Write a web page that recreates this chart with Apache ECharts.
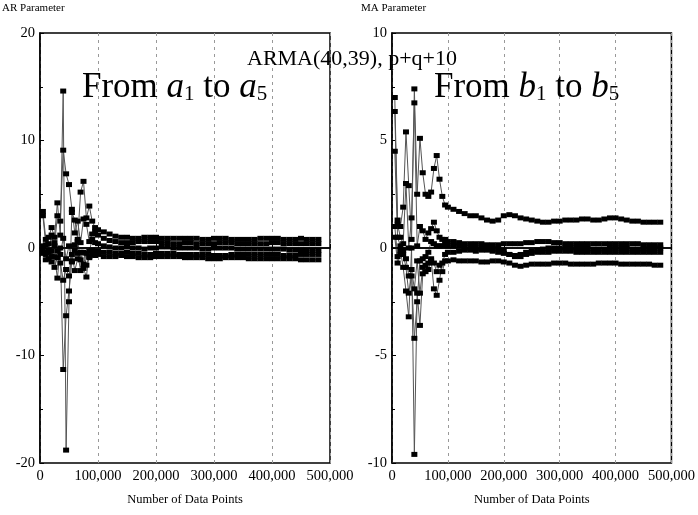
<!DOCTYPE html>
<html>
<head>
<meta charset="utf-8">
<script src="https://cdn.jsdelivr.net/npm/echarts@6/dist/echarts.min.js"></script>
<style>
html,body{margin:0;padding:0;background:#fff;}
#chart{width:698px;height:515px;}
</style>
</head>
<body>
<div id="chart"></div>
<script>
// ---- Data ----
const xPoints = [5000,10000,15000,20000,25000,30000,35000,40000,45000,50000,
  55000,60000,65000,70000,75000,80000,85000,90000,95000,100000,
  110000,120000,130000,140000,150000,160000,170000,180000,190000,200000,
  210000,220000,230000,240000,250000,260000,270000,280000,290000,300000,
  310000,320000,330000,340000,350000,360000,370000,380000,390000,400000,
  410000,420000,430000,440000,450000,460000,470000,480000];

const xTickLabels = ['0','100,000','200,000','300,000','400,000','500,000'];

// AR parameters a1..a5
const a1 = [3.4,0.8,1.0,1.9,1.0,4.2,1.2,14.6,-18.8,-5.0, 3.3,2.6,0.8,5.2,6.2,2.8,3.9,2.5,1.9,1.7,
  1.5,1.3,1.1,1.0,1.0,0.9,0.9,1.0,1.0,1.0, 0.9,0.9,0.9,0.9,0.9,0.9,0.9,0.8,0.8,0.9,
  0.9,0.9,0.8,0.8,0.8,0.8,0.8,0.9,0.9,0.9, 0.9,0.8,0.8,0.8,0.9,0.8,0.8,0.8];
const a2 = [3.0,0.3,-0.4,1.2,0.2,3.0,2.5,9.1,6.9,5.9, 3.6,1.4,2.5,0.5,2.7,2.2,0.6,1.3,1.5,1.2,
  0.9,0.7,0.6,0.5,0.5,0.5,0.6,0.6,0.6,0.6, 0.5,0.5,0.4,0.4,0.5,0.5,0.4,0.4,0.4,0.4,
  0.5,0.5,0.5,0.4,0.4,0.4,0.4,0.4,0.4,0.5, 0.5,0.4,0.4,0.4,0.4,0.4,0.4,0.4];
const a3 = [0.2,-0.4,0.4,-1.3,-0.8,-2.8,0.0,-11.3,-6.3,-4.0, -1.2,0.3,-0.5,-2.1,-1.9,-2.7,-0.3,0.8,0.5,0.4,
  0.2,0.1,0.0,0.0,0.1,0.0,0.0,-0.1,0.0,0.0, 0.1,0.1,0.0,0.0,0.0,0.0,0.0,-0.1,-0.1,0.0,
  0.0,0.0,0.0,-0.1,-0.1,-0.1,-0.1,-0.1,-0.1,-0.1, -0.1,-0.1,-0.2,-0.2,-0.2,-0.2,-0.2,-0.2];
const a4 = [-0.5,-0.6,-1.0,-0.3,-1.8,-0.9,-1.4,-3.0,-2.0,-2.6, -0.6,-2.1,-1.0,-0.4,-1.5,-0.5,-0.9,-0.2,-0.4,-0.3,
  -0.4,-0.4,-0.5,-0.5,-0.4,-0.5,-0.5,-0.6,-0.6,-0.5, -0.5,-0.5,-0.5,-0.6,-0.6,-0.6,-0.6,-0.6,-0.6,-0.7,
  -0.7,-0.7,-0.6,-0.6,-0.6,-0.6,-0.6,-0.6,-0.6,-0.6, -0.6,-0.7,-0.7,-0.7,-0.6,-0.6,-0.6,-0.6];
const a5 = [-0.2,-1.1,-0.2,-0.8,0.5,-0.3,-0.6,0.9,-1.0,0.2, -1.3,-0.2,0.6,-1.1,-0.4,-1.6,-0.8,-0.6,-0.7,-0.6,
  -0.8,-0.8,-0.8,-0.7,-0.8,-0.8,-0.9,-0.9,-0.9,-0.8, -0.8,-0.8,-0.8,-0.8,-0.9,-0.9,-0.9,-0.9,-1.0,-1.0,
  -1.0,-0.9,-0.9,-0.9,-0.9,-1.0,-1.0,-1.0,-1.0,-1.0, -1.0,-1.0,-1.0,-1.0,-1.1,-1.1,-1.1,-1.1];

// MA parameters b1..b5
const b1 = [7.0,1.3,1.0,1.9,5.4,2.9,0.4,7.4,2.5,5.1, 3.5,2.5,2.4,2.6,3.7,4.3,3.2,2.4,2.0,1.9,
  1.8,1.7,1.6,1.5,1.5,1.4,1.3,1.25,1.3,1.5, 1.55,1.5,1.4,1.35,1.3,1.25,1.2,1.2,1.25,1.25,
  1.3,1.3,1.3,1.35,1.35,1.3,1.3,1.35,1.4,1.4, 1.35,1.3,1.25,1.25,1.2,1.2,1.2,1.2];
const b2 = [6.35,1.1,0.5,0.2,3.0,0.0,1.4,6.75,0.1,1.0, 0.8,0.4,0.7,0.9,1.2,0.8,0.5,0.4,0.4,0.3,
  0.3,0.25,0.2,0.2,0.2,0.2,0.15,0.15,0.15,0.2, 0.2,0.2,0.2,0.25,0.25,0.3,0.3,0.3,0.25,0.25,
  0.2,0.2,0.2,0.2,0.2,0.2,0.2,0.2,0.2,0.2, 0.2,0.2,0.2,0.2,0.15,0.15,0.15,0.15];
const b3 = [4.5,0.5,0.1,-0.3,-0.9,-2.1,-1.3,-4.2,-2.5,-0.6, -0.5,-0.4,-0.2,0.3,0.2,0.1,0.1,0.1,0.2,0.1,
  0.1,0.1,0.05,0.0,0.0,0.0,0.0,0.0,-0.05,-0.1, -0.3,-0.35,-0.3,-0.2,-0.15,-0.1,-0.05,0.0,0.0,0.0,
  0.0,0.0,0.0,0.0,0.0,-0.05,-0.05,-0.05,0.0,0.0, 0.0,0.0,-0.05,-0.05,-0.05,-0.05,0.0,0.0];
const b4 = [1.0,-0.4,-0.1,-0.9,-2.0,-3.2,0.0,-9.6,-2.1,-3.6, -1.2,-1.1,-0.7,-0.5,-1.9,-2.2,-1.5,-0.7,-0.3,-0.2,
  -0.2,-0.15,-0.1,-0.1,-0.15,-0.1,-0.1,-0.15,-0.2,-0.25, -0.3,-0.4,-0.4,-0.3,-0.25,-0.2,-0.2,-0.2,-0.15,-0.15,
  -0.15,-0.15,-0.2,-0.2,-0.2,-0.2,-0.2,-0.2,-0.2,-0.2, -0.2,-0.2,-0.2,-0.2,-0.2,-0.2,-0.2,-0.2];
const b5 = [0.5,-0.7,-0.3,-0.1,-0.5,-1.3,-1.0,-1.9,-0.6,-2.1, -0.9,-0.8,-1.0,-0.6,-0.7,-1.1,-0.8,-1.1,-0.6,-0.6,
  -0.55,-0.6,-0.6,-0.6,-0.6,-0.65,-0.65,-0.6,-0.6,-0.65, -0.7,-0.8,-0.85,-0.8,-0.75,-0.75,-0.75,-0.75,-0.7,-0.7,
  -0.7,-0.75,-0.75,-0.75,-0.75,-0.75,-0.7,-0.7,-0.7,-0.7, -0.75,-0.75,-0.75,-0.75,-0.75,-0.75,-0.8,-0.8];

const arSeries = [a1,a2,a3,a4,a5];
const maSeries = [b1,b2,b3,b4,b5];

// ---- Chart ----
const FONT = '"Liberation Serif","DejaVu Serif",serif';
const chart = echarts.init(document.getElementById('chart'));

function pairs(ys){ return ys.map((v,i)=>[xPoints[i], v]); }

function makeSeries(list, idx){
  return list.map((ys, k) => {
    const s = {
      type: 'line',
      xAxisIndex: idx, yAxisIndex: idx,
      data: pairs(ys),
      symbol: 'rect',
      symbolSize: [6, 5],
      showSymbol: true,
      animation: false,
      itemStyle: {color: '#000'},
      lineStyle: {color: '#555', width: 1},
      z: 3
    };
    if (k === 0) {
      s.markLine = {
        silent: true, symbol: 'none', animation: false,
        label: {show: false},
        lineStyle: {color: '#000', width: 1.5, type: 'solid'},
        data: [{yAxis: 0}]
      };
    }
    return s;
  });
}

function xAxisDef(idx){
  return {
    type: 'value', gridIndex: idx, min: 0, max: 500000, interval: 100000,
    axisLine: {show: true, lineStyle: {color: '#000', width: 1.5}},
    axisTick: {show: true, inside: true, length: 4, lineStyle: {color: '#000'}},
    axisLabel: {
      color: '#000', fontFamily: FONT, fontSize: 14.5, margin: 6,
      formatter: v => xTickLabels[Math.round(v/100000)]
    },
    splitLine: {show: true, lineStyle: {color: '#999', type: [3,4], width: 1}},
    name: 'Number of Data Points', nameLocation: 'middle', nameGap: 30,
    nameTextStyle: {color: '#000', fontFamily: FONT, fontSize: 12.5}
  };
}

function yAxisDef(idx, lim, step){
  return {
    type: 'value', gridIndex: idx, min: -lim, max: lim, interval: step,
    axisLine: {show: true, lineStyle: {color: '#000', width: 1.5}},
    axisTick: {show: true, inside: true, length: 4, lineStyle: {color: '#000'}},
    minorTick: {show: true, splitNumber: 2, length: 3, lineStyle: {color: '#000'}},
    axisLabel: {color: '#000', fontFamily: FONT, fontSize: 14.5, margin: 5},
    splitLine: {show: false}
  };
}

const subRich = {
  n: {fontFamily: FONT, fontSize: 35, fill: '#000'},
  i: {fontFamily: FONT, fontSize: 35, fontStyle: 'italic', fill: '#000'},
  s: {fontFamily: FONT, fontSize: 21, fill: '#000', verticalAlign: 'bottom'}
};

const option = {
  backgroundColor: '#fff',
  animation: false,
  grid: [
    {left: 40, right: 368, top: 33, bottom: 52, show: true, borderColor: '#000', borderWidth: 1.5, backgroundColor: 'transparent'},
    {left: 392, right: 18, top: 33, bottom: 52, show: true, borderColor: '#000', borderWidth: 1.5, backgroundColor: 'transparent'}
  ],
  xAxis: [xAxisDef(0), xAxisDef(1)],
  yAxis: [yAxisDef(0, 20, 10), yAxisDef(1, 10, 5)],
  series: [...makeSeries(arSeries, 0), ...makeSeries(maSeries, 1)],
  graphic: [
    {type: 'text', left: 2, top: 3, z: 10, style: {text: 'AR Parameter', fill: '#000', font: '11px ' + FONT}},
    {type: 'text', left: 361, top: 3, z: 10, style: {text: 'MA Parameter', fill: '#000', font: '11px ' + FONT}},
    {type: 'text', left: 247, top: 48, z: 10, style: {text: 'ARMA(40,39), p+q+10', fill: '#000', font: '22px ' + FONT}},
    {type: 'text', left: 82, top: 70, z: 10, style: {text: '{n|From }{i|a}{s|1}{n| to }{i|a}{s|5}', rich: subRich}},
    {type: 'text', left: 434, top: 70, z: 10, style: {text: '{n|From }{i|b}{s|1}{n| to }{i|b}{s|5}', rich: subRich}}
  ]
};
chart.setOption(option);
</script>
</body>
</html>
